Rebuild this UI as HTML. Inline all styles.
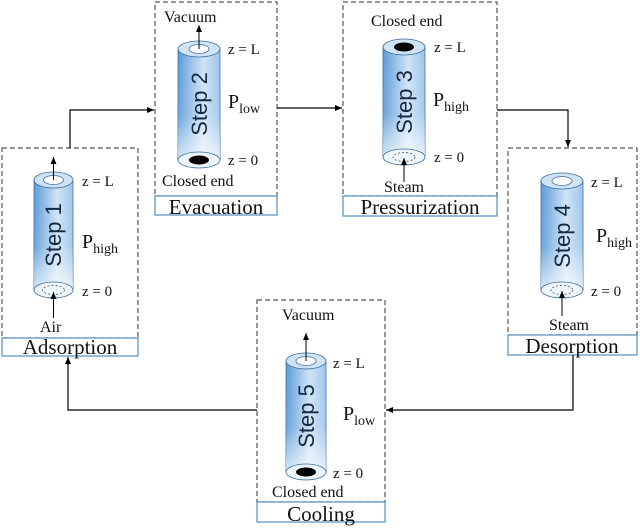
<!DOCTYPE html>
<html><head><style>body{margin:0;background:#fff}svg{display:block}</style></head><body>
<svg width="640" height="528" viewBox="0 0 640 528" xmlns="http://www.w3.org/2000/svg" font-family="Liberation Serif, serif">
<defs>
<linearGradient id="g" x1="0" x2="1" y1="0" y2="0"><stop offset="0" stop-color="#5a9ad8"/><stop offset="0.6" stop-color="#cfe3f6"/><stop offset="1" stop-color="#9cc4ea"/></linearGradient>
<linearGradient id="gv" x1="0" x2="0" y1="0" y2="1"><stop offset="0" stop-color="#fff" stop-opacity="0"/><stop offset="0.6" stop-color="#fff" stop-opacity="0.1"/><stop offset="1" stop-color="#fff" stop-opacity="0.75"/></linearGradient>
<marker id="a" markerWidth="8" markerHeight="8" refX="7" refY="4" orient="auto" markerUnits="userSpaceOnUse"><path d="M0,1 L7,4 L0,7 Z" fill="#000"/></marker>
</defs>
<g fill="none" stroke="#555" stroke-width="1.2" stroke-dasharray="5,3">
<rect x="2" y="148" width="136" height="190"/>
<rect x="155" y="2" width="122" height="194"/>
<rect x="343" y="2" width="154" height="194"/>
<rect x="508" y="148" width="129" height="187"/>
<rect x="257" y="300" width="128" height="202"/>
</g>
<g fill="#fff" stroke="#4f8fc0" stroke-width="1.2">
<rect x="2" y="338" width="136" height="18"/>
<rect x="155" y="196" width="122" height="19"/>
<rect x="343" y="196" width="154" height="20"/>
<rect x="508" y="335" width="129" height="20"/>
<rect x="257" y="502" width="128" height="20"/>
</g>
<g font-size="21" text-anchor="middle" fill="#111">
<text x="70" y="354">Adsorption</text>
<text x="216" y="214">Evacuation</text>
<text x="420" y="214">Pressurization</text>
<text x="572" y="353">Desorption</text>
<text x="321" y="521">Cooling</text>
</g>
<g fill="none" stroke="#000" stroke-width="1.2">
<polyline points="70,148 70,110 154,110" marker-end="url(#a)"/>
<line x1="277" y1="108" x2="342" y2="108" marker-end="url(#a)"/>
<polyline points="497,110 568,110 568,147" marker-end="url(#a)"/>
<polyline points="573,355 573,410 386,410" marker-end="url(#a)"/>
<polyline points="257,410 68,410 68,357" marker-end="url(#a)"/>
</g>
<g>
<rect x="34" y="180" width="39" height="110" fill="url(#g)" stroke="#3b6e9c" stroke-width="0.8"/>
<rect x="34" y="180" width="39" height="110" fill="url(#gv)"/>
<ellipse cx="53.5" cy="290" rx="19.5" ry="8" fill="#eef5fb" stroke="#3b6e9c" stroke-width="0.8"/>
<ellipse cx="53.5" cy="290" rx="11" ry="4.5" fill="none" stroke="#555" stroke-width="0.8" stroke-dasharray="2,2"/>
<ellipse cx="53.5" cy="180" rx="19.5" ry="8" fill="#cfe3f5" stroke="#3b6e9c" stroke-width="0.8"/>
<ellipse cx="53.5" cy="180" rx="10" ry="4.5" fill="#fff" stroke="#3b6e9c" stroke-width="0.8"/>
</g>
<g>
<rect x="178" y="49" width="42" height="111" fill="url(#g)" stroke="#3b6e9c" stroke-width="0.8"/>
<rect x="178" y="49" width="42" height="111" fill="url(#gv)"/>
<ellipse cx="199" cy="160" rx="21" ry="8" fill="#eef5fb" stroke="#3b6e9c" stroke-width="0.8"/>
<ellipse cx="199" cy="160" rx="10" ry="4.5" fill="#000"/>
<ellipse cx="199" cy="49" rx="21" ry="8" fill="#cfe3f5" stroke="#3b6e9c" stroke-width="0.8"/>
<ellipse cx="199" cy="49" rx="10" ry="4.5" fill="#fff" stroke="#3b6e9c" stroke-width="0.8"/>
</g>
<g>
<rect x="383" y="47" width="42" height="110" fill="url(#g)" stroke="#3b6e9c" stroke-width="0.8"/>
<rect x="383" y="47" width="42" height="110" fill="url(#gv)"/>
<ellipse cx="404" cy="157" rx="21" ry="8" fill="#eef5fb" stroke="#3b6e9c" stroke-width="0.8"/>
<ellipse cx="404" cy="157" rx="11" ry="4.5" fill="none" stroke="#555" stroke-width="0.8" stroke-dasharray="2,2"/>
<ellipse cx="404" cy="47" rx="21" ry="8" fill="#cfe3f5" stroke="#3b6e9c" stroke-width="0.8"/>
<ellipse cx="404" cy="47" rx="10" ry="4.5" fill="#000"/>
</g>
<g>
<rect x="541" y="181" width="42" height="109" fill="url(#g)" stroke="#3b6e9c" stroke-width="0.8"/>
<rect x="541" y="181" width="42" height="109" fill="url(#gv)"/>
<ellipse cx="562" cy="290" rx="21" ry="8" fill="#eef5fb" stroke="#3b6e9c" stroke-width="0.8"/>
<ellipse cx="562" cy="290" rx="11" ry="4.5" fill="none" stroke="#555" stroke-width="0.8" stroke-dasharray="2,2"/>
<ellipse cx="562" cy="181" rx="21" ry="8" fill="#cfe3f5" stroke="#3b6e9c" stroke-width="0.8"/>
<ellipse cx="562" cy="181" rx="10" ry="4.5" fill="#fff" stroke="#3b6e9c" stroke-width="0.8"/>
</g>
<g>
<rect x="286" y="361" width="40" height="111" fill="url(#g)" stroke="#3b6e9c" stroke-width="0.8"/>
<rect x="286" y="361" width="40" height="111" fill="url(#gv)"/>
<ellipse cx="306" cy="472" rx="20" ry="8" fill="#eef5fb" stroke="#3b6e9c" stroke-width="0.8"/>
<ellipse cx="306" cy="472" rx="10" ry="4.5" fill="#000"/>
<ellipse cx="306" cy="361" rx="20" ry="8" fill="#cfe3f5" stroke="#3b6e9c" stroke-width="0.8"/>
<ellipse cx="306" cy="361" rx="10" ry="4.5" fill="#fff" stroke="#3b6e9c" stroke-width="0.8"/>
</g>
<g stroke="#000" stroke-width="1" fill="none">
<line x1="53.5" y1="318" x2="53.5" y2="292" marker-end="url(#a)"/>
<line x1="53.5" y1="180" x2="53.5" y2="157" marker-end="url(#a)"/>
<line x1="199" y1="49" x2="199" y2="25" marker-end="url(#a)"/>
<line x1="404" y1="182" x2="404" y2="158" marker-end="url(#a)"/>
<line x1="562" y1="316" x2="562" y2="291" marker-end="url(#a)"/>
<line x1="306" y1="361" x2="306" y2="333" marker-end="url(#a)"/>
</g>
<g font-family="Liberation Sans, sans-serif" font-size="22" fill="#14283f" text-anchor="middle">
<text transform="translate(61,235) rotate(-90)">Step 1</text>
<text transform="translate(207,104) rotate(-90)">Step 2</text>
<text transform="translate(412,102) rotate(-90)">Step 3</text>
<text transform="translate(570,236) rotate(-90)">Step 4</text>
<text transform="translate(314,416) rotate(-90)">Step 5</text>
</g>
<g font-size="15" fill="#111">
<text x="82" y="186">z = L</text><text x="82" y="296">z = 0</text>
<text x="228" y="54">z = L</text><text x="228" y="165">z = 0</text>
<text x="434" y="52">z = L</text><text x="434" y="162">z = 0</text>
<text x="591" y="187">z = L</text><text x="591" y="296">z = 0</text>
<text x="333" y="368">z = L</text><text x="333" y="478">z = 0</text>
</g>
<g font-size="16" fill="#111">
<text x="40" y="332">Air</text>
<text x="164" y="22">Vacuum</text>
<text x="162" y="186">Closed end</text>
<text x="371" y="26">Closed end</text>
<text x="384" y="192">Steam</text>
<text x="549" y="330">Steam</text>
<text x="282" y="320">Vacuum</text>
<text x="272" y="497">Closed end</text>
</g>
<g font-size="20" fill="#111">
<text x="82" y="248">P<tspan font-size="14" dy="5">high</tspan></text>
<text x="228" y="108">P<tspan font-size="14" dy="5">low</tspan></text>
<text x="433" y="106">P<tspan font-size="14" dy="5">high</tspan></text>
<text x="596" y="242">P<tspan font-size="14" dy="5">high</tspan></text>
<text x="343" y="420">P<tspan font-size="14" dy="5">low</tspan></text>
</g>
</svg>
</body></html>
